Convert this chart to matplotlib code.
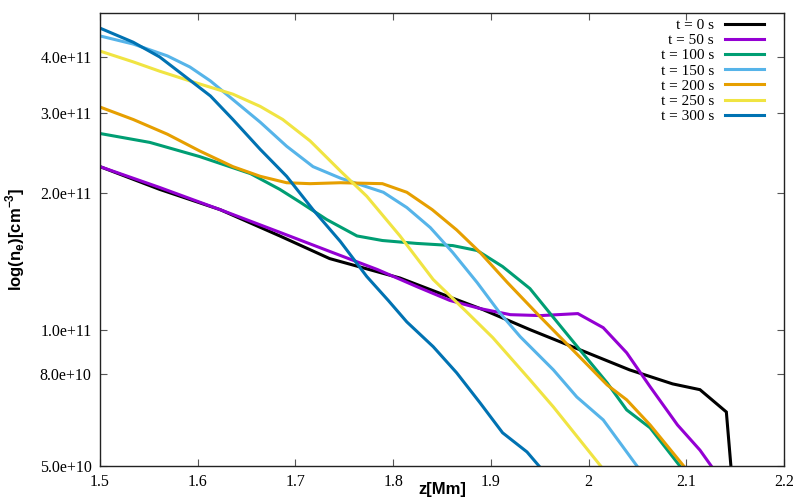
import matplotlib
matplotlib.use("Agg")
import matplotlib.pyplot as plt
from matplotlib.ticker import FixedLocator, FormatStrFormatter, NullLocator

plt.rcParams['mathtext.fontset'] = 'custom'
plt.rcParams['mathtext.bf'] = 'Liberation Sans:bold'
plt.rcParams['mathtext.rm'] = 'Liberation Sans:bold'

# density profiles, z in Mm, n_e in cm^-3
z_t0 = [1.5, 1.561, 1.623, 1.684, 1.735, 1.807, 1.858, 1.892, 1.940, 1.991,
        2.042, 2.086, 2.114, 2.141, 2.146]
n_t0 = [2.29e11, 2.04e11, 1.84e11, 1.61e11, 1.435e11, 1.30e11, 1.18e11, 1.107e11,
        1.0e11, 9.03e10, 8.15e10, 7.59e10, 7.37e10, 6.58e10, 4.9e10]

z_t50 = [1.5, 1.561, 1.623, 1.684, 1.738, 1.784, 1.824, 1.858, 1.889, 1.920,
         1.951, 1.989, 2.015, 2.039, 2.063, 2.091, 2.114, 2.127]
n_t50 = [2.29e11, 2.06e11, 1.84e11, 1.64e11, 1.48e11, 1.357e11, 1.245e11, 1.16e11,
         1.113e11, 1.079e11, 1.074e11, 1.085e11, 1.01e11, 8.89e10, 7.48e10, 6.16e10,
         5.42e10, 4.95e10]

z_t100 = [1.5, 1.551, 1.602, 1.654, 1.684, 1.705, 1.732, 1.763, 1.789, 1.824,
          1.861, 1.886, 1.912, 1.940, 1.960, 1.991, 2.019, 2.039, 2.063, 2.095]
n_t100 = [2.71e11, 2.59e11, 2.41e11, 2.21e11, 2.04e11, 1.91e11, 1.75e11, 1.61e11,
          1.573e11, 1.55e11, 1.533e11, 1.495e11, 1.378e11, 1.232e11, 1.09e11, 9.03e10,
          7.63e10, 6.65e10, 6.07e10, 4.95e10]

z_t150 = [1.5, 1.534, 1.569, 1.592, 1.613, 1.636, 1.664, 1.691, 1.718, 1.746,
          1.790, 1.814, 1.838, 1.861, 1.886, 1.909, 1.930, 1.964, 1.988, 2.015, 2.051]
n_t150 = [4.45e11, 4.27e11, 4.02e11, 3.80e11, 3.54e11, 3.22e11, 2.87e11, 2.54e11,
          2.29e11, 2.16e11, 2.01e11, 1.86e11, 1.68e11, 1.48e11, 1.27e11, 1.09e11,
          9.65e10, 8.15e10, 7.1e10, 6.32e10, 4.95e10]

z_t200 = [1.5, 1.534, 1.569, 1.602, 1.636, 1.664, 1.691, 1.715, 1.746, 1.789,
          1.814, 1.840, 1.865, 1.889, 1.917, 1.950, 1.991, 2.019, 2.039, 2.063, 2.099]
n_t200 = [3.10e11, 2.91e11, 2.70e11, 2.48e11, 2.29e11, 2.18e11, 2.11e11, 2.10e11,
          2.11e11, 2.10e11, 2.01e11, 1.84e11, 1.66e11, 1.48e11, 1.27e11, 1.07e11,
          8.7e10, 7.55e10, 7.0e10, 6.16e10, 4.95e10]

z_t250 = [1.5, 1.534, 1.561, 1.592, 1.636, 1.664, 1.687, 1.715, 1.746, 1.773,
          1.807, 1.841, 1.876, 1.902, 1.940, 1.964, 1.991, 2.014]
n_t250 = [4.12e11, 3.90e11, 3.72e11, 3.54e11, 3.31e11, 3.11e11, 2.91e11, 2.61e11,
          2.24e11, 1.97e11, 1.61e11, 1.29e11, 1.09e11, 9.6e10, 7.75e10, 6.75e10,
          5.71e10, 4.95e10]

z_t300 = [1.5, 1.534, 1.561, 1.585, 1.613, 1.636, 1.664, 1.691, 1.718, 1.746,
          1.773, 1.795, 1.814, 1.841, 1.865, 1.889, 1.912, 1.937, 1.951]
n_t300 = [4.63e11, 4.31e11, 4.0e11, 3.65e11, 3.28e11, 2.91e11, 2.5e11, 2.18e11,
          1.84e11, 1.565e11, 1.31e11, 1.16e11, 1.04e11, 9.17e10, 8.03e10, 6.89e10,
          5.92e10, 5.37e10, 4.95e10]

labels = ["t = 0 s", "t = 50 s", "t = 100 s", "t = 150 s",
          "t = 200 s", "t = 250 s", "t = 300 s"]
colors = ["#000000", "#9400D3", "#009E73", "#56B4E9",
          "#E69F00", "#F0E442", "#0072B2"]
series = [(z_t0, n_t0), (z_t50, n_t50), (z_t100, n_t100), (z_t150, n_t150),
          (z_t200, n_t200), (z_t250, n_t250), (z_t300, n_t300)]

xticks = [1.5, 1.6, 1.7, 1.8, 1.9, 2.0, 2.1, 2.2]
xticklabels = ["1.5", "1.6", "1.7", "1.8", "1.9", "2", "2.1", "2.2"]
yticks = [5e10, 8e10, 1e11, 2e11, 3e11, 4e11]

fig = plt.figure(figsize=(8, 5), dpi=100)
ax = fig.add_axes([0.125, 0.068, 0.855, 0.906])

for (z, n), lab, c in zip(series, labels, colors):
    ax.plot(z, n, color=c, lw=2.2, label=lab, solid_joinstyle='miter')

ax.set_yscale('log')
ax.set_xlim(1.5, 2.2)
ax.set_ylim(5e10, 5e11)

ax.xaxis.set_major_locator(FixedLocator(xticks))
ax.set_xticklabels(xticklabels)
ax.yaxis.set_major_locator(FixedLocator(yticks))
ax.yaxis.set_minor_locator(NullLocator())
ax.yaxis.set_major_formatter(FormatStrFormatter('%.1e'))

ax.tick_params(which='both', direction='in', top=True, right=True,
               length=5, width=0.8, color='#555555', pad=6)
for lbl in ax.get_xticklabels() + ax.get_yticklabels():
    lbl.set_fontfamily('Liberation Serif')
    lbl.set_fontsize(11.5)
for sp in ax.spines.values():
    sp.set_linewidth(1.0)
    sp.set_color('#222222')

ax.set_xlabel("z[Mm]", fontsize=12, fontweight='bold',
              fontfamily='Liberation Sans')
ax.set_ylabel(r"log(n$_\mathbf{e}$)[cm$^\mathbf{-3}$]", fontsize=12,
              fontweight='bold', fontfamily='Liberation Sans')
ax.xaxis.set_label_coords(0.5, -0.036)
ax.yaxis.set_label_coords(-0.106, 0.5)

leg = ax.legend(loc='upper right', markerfirst=False, frameon=False,
                prop={'family': 'Liberation Serif', 'size': 11},
                handlelength=2.55, handletextpad=0.7, labelspacing=0.1,
                borderaxespad=0.3, bbox_to_anchor=(0.986, 1.012))

fig.savefig("out.png", dpi=100)
